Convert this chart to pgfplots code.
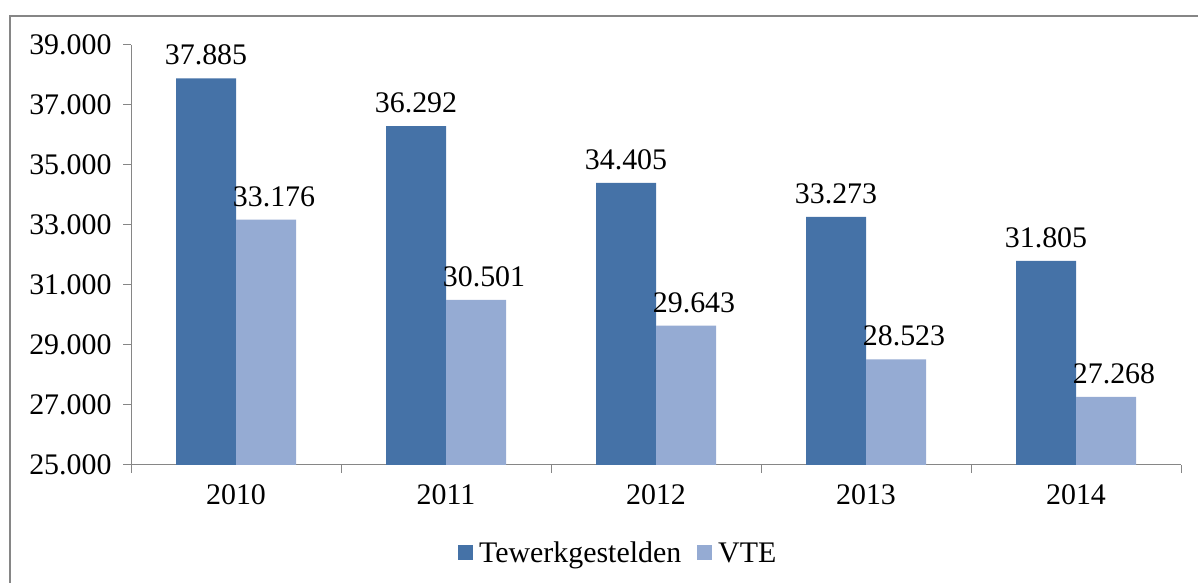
\documentclass[border=0pt]{standalone}
\usepackage{pgfplots}
\pgfplotsset{compat=1.18}
\usepackage{fontspec}
\setmainfont{Liberation Serif}
\definecolor{darkblue}{RGB}{69,114,167}
\definecolor{lightblue}{RGB}{149,171,211}
\definecolor{axisgray}{RGB}{134,134,134}
\begin{document}
\begin{tikzpicture}[x=1bp,y=1bp]
\path[use as bounding box] (0,0) rectangle (1198,583);
\draw[axisgray, line width=1.5bp] (10,0) -- (10,567) -- (1198,567);
\begin{axis}[
  at={(131bp,118bp)}, anchor=south west,
  scale only axis, width=1050bp, height=420bp,
  xmin=-0.5, xmax=4.5, ymin=25000, ymax=39000,
  ybar=0pt, bar width=60bp,
  axis x line*=bottom, axis y line*=left,
  axis line style={axisgray, line width=1bp, -},
  tick align=outside,
  major tick length=8bp, minor tick length=8bp,
  xtick={0,1,2,3,4}, xticklabels={2010,2011,2012,2013,2014},
  minor xtick={-0.5,0.5,1.5,2.5,3.5,4.5},
  major x tick style={draw=none},
  minor x tick style={axisgray, line width=1bp},
  ytick={25000,27000,29000,31000,33000,35000,37000,39000},
  y tick style={axisgray, line width=1bp},
  scaled y ticks=false,
  /pgf/number format/.cd, fixed, 1000 sep={.}, assume math mode=true,
  /pgfplots/.cd,
  tick label style={font=\fontsize{30}{34}\selectfont, text=black},
  yticklabel style={xshift=-8bp},
  xticklabel style={yshift=-8bp},
  nodes near coords,
  every node near coord/.append style={font=\fontsize{30}{34}\selectfont, text=black, inner sep=0pt, yshift=13bp},
  legend columns=2,
  legend style={at={(0.464,-0.2095)}, anchor=center, draw=none, fill=none,
    font=\fontsize{30}{34}\selectfont,
    /tikz/every odd column/.append style={column sep=4bp},
    /tikz/every even column/.append style={column sep=14bp}},
  legend image code/.code={\path[#1, draw=none] (0bp,-7.5bp) rectangle (15bp,7.5bp);},
]
\addplot[fill=darkblue, draw=none] coordinates {(0,37885) (1,36292) (2,34405) (3,33273) (4,31805)};
\addplot[fill=lightblue, draw=none, every node near coord/.append style={xshift=8bp}] coordinates {(0,33176) (1,30501) (2,29643) (3,28523) (4,27268)};
\legend{Tewerkgestelden, VTE}
\end{axis}
\end{tikzpicture}
\end{document}
